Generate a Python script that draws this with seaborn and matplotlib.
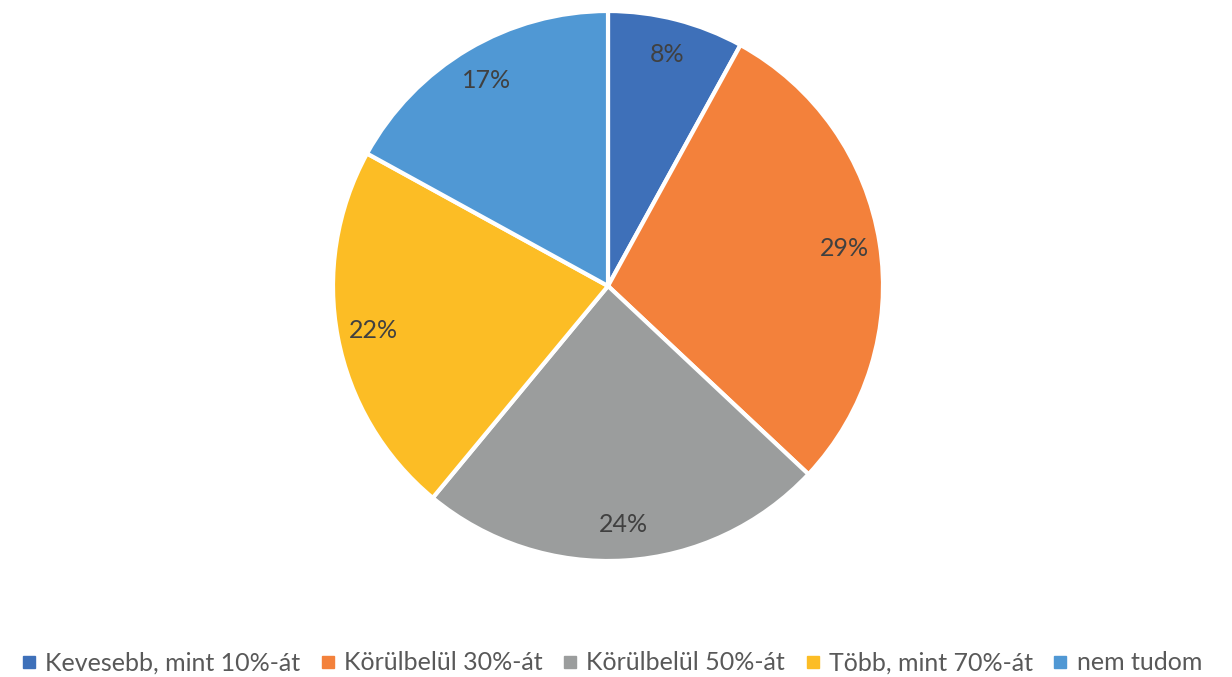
import matplotlib
matplotlib.use("Agg")
import matplotlib.pyplot as plt
from matplotlib.lines import Line2D
import seaborn as sns

categories = ["Kevesebb, mint 10%-át", "Körülbelül 30%-át", "Körülbelül 50%-át",
              "Több, mint 70%-át", "nem tudom"]
values = [8, 29, 24, 22, 17]
colors = ["#3E70B9", "#F3813B", "#9B9D9D", "#FCBD25", "#5098D4"]

sns.set_theme(style="white")
plt.rcParams["font.family"] = ["Lato", "DejaVu Sans"]

fig = plt.figure(figsize=(12.32, 6.77), dpi=100)
ax = fig.add_axes([(608 - 275) / 1232, (677 - 286 - 275) / 677, 550 / 1232, 550 / 677])
wedges, texts, autotexts = ax.pie(
    values, colors=sns.color_palette(colors), startangle=90, counterclock=False,
    radius=1, autopct=lambda p: f"{p:.0f}%", pctdistance=0.87,
    wedgeprops=dict(edgecolor="white", linewidth=3),
    textprops=dict(color="#404040", fontsize=18))
ax.set_xlim(-1.0, 1.0)
ax.set_ylim(-1.0, 1.0)
ax.set_aspect("equal")
ax.axis("off")

handles = [Line2D([0], [0], marker="s", linestyle="none", markersize=8,
                  markerfacecolor=c, markeredgecolor=c) for c in colors]
fig.legend(handles, categories, loc="center", bbox_to_anchor=(0.496, 1 - 663 / 677),
           ncol=5, frameon=False, fontsize=18, labelcolor="#595959",
           handletextpad=0.3, columnspacing=0.75, handlelength=0.7)

fig.savefig("out.png", dpi=100, facecolor="white")
